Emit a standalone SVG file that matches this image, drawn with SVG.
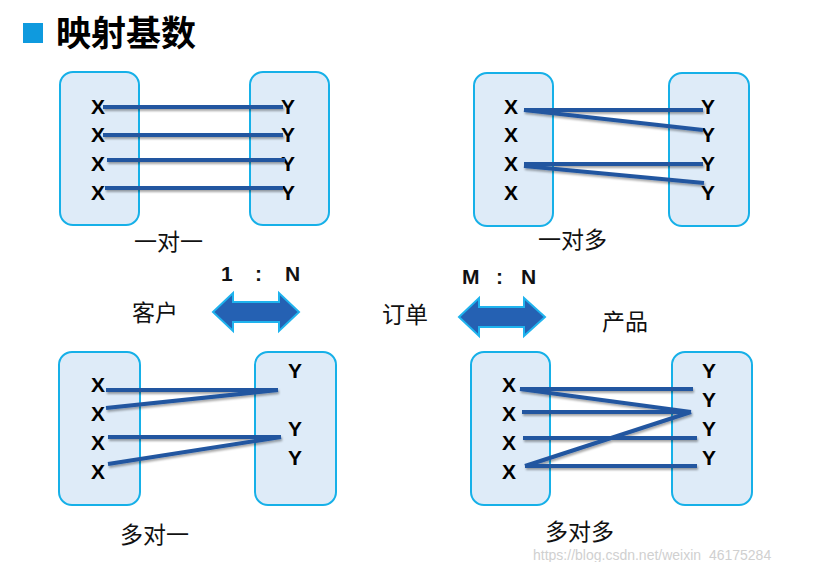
<svg xmlns="http://www.w3.org/2000/svg" width="813" height="562" viewBox="0 0 813 562">
<defs>
<filter id="sh" x="-10%" y="-50%" width="120%" height="200%">
<feDropShadow dx="1" dy="2" stdDeviation="1.2" flood-color="#000" flood-opacity="0.35"/>
</filter>
</defs>
<style>
.box{fill:#deebf8;stroke:#16b0e8;stroke-width:2}
.lbl{font-family:"Liberation Sans",Arial,sans-serif;font-weight:bold;font-size:21px;fill:#000}
.cn{font-family:"Noto Sans CJK SC","Noto Sans",sans-serif;font-size:23px;fill:#111}
.ln{stroke:#2457a0;stroke-width:4;stroke-linecap:butt;fill:none}
.arr{fill:#2561b3;stroke:#1fb3ee;stroke-width:2;stroke-linejoin:miter}
.ratio{font-family:"Liberation Sans",Arial,sans-serif;font-weight:bold;font-size:21px;fill:#111}
</style>
<rect x="23" y="23" width="20" height="20" fill="#0f9ade"/>
<text x="56" y="46" font-family="Noto Sans CJK SC,sans-serif" font-weight="bold" font-size="35" fill="#000">映射基数</text>

<g id="one-to-one">
<rect class="box" x="60" y="72" width="79" height="153" rx="13"/>
<rect class="box" x="250" y="72" width="79" height="153" rx="13"/>
<text class="lbl" x="91" y="114">X</text><text class="lbl" x="91" y="142">X</text><text class="lbl" x="91" y="171">X</text><text class="lbl" x="91" y="200">X</text>
<text class="lbl" x="281" y="114">Y</text><text class="lbl" x="281" y="142">Y</text><text class="lbl" x="281" y="171">Y</text><text class="lbl" x="281" y="200">Y</text>
<text class="cn" x="134" y="250">一对一</text>
</g>

<g id="one-to-many">
<rect class="box" x="474" y="73" width="79" height="153" rx="13"/>
<rect class="box" x="669" y="73" width="80" height="153" rx="13"/>
<text class="lbl" x="504" y="114">X</text><text class="lbl" x="504" y="142">X</text><text class="lbl" x="504" y="171">X</text><text class="lbl" x="504" y="200">X</text>
<text class="lbl" x="701" y="114">Y</text><text class="lbl" x="701" y="142">Y</text><text class="lbl" x="701" y="171">Y</text><text class="lbl" x="701" y="200">Y</text>
<text class="cn" x="538" y="248">一对多</text>
</g>

<g id="many-to-one">
<rect class="box" x="59" y="352" width="81" height="153" rx="13"/>
<rect class="box" x="255" y="352" width="81" height="153" rx="13"/>
<text class="lbl" x="91" y="392">X</text><text class="lbl" x="91" y="421">X</text><text class="lbl" x="91" y="450">X</text><text class="lbl" x="91" y="479">X</text>
<text class="lbl" x="288" y="378">Y</text><text class="lbl" x="288" y="436">Y</text><text class="lbl" x="288" y="465">Y</text>
<text class="cn" x="120" y="543">多对一</text>
</g>

<g id="many-to-many">
<rect class="box" x="471" y="352" width="79" height="153" rx="13"/>
<rect class="box" x="672" y="352" width="80" height="153" rx="13"/>
<text class="lbl" x="502" y="392">X</text><text class="lbl" x="502" y="421">X</text><text class="lbl" x="502" y="450">X</text><text class="lbl" x="502" y="479">X</text>
<text class="lbl" x="702" y="378">Y</text><text class="lbl" x="702" y="407">Y</text><text class="lbl" x="702" y="436">Y</text><text class="lbl" x="702" y="465">Y</text>
<text class="cn" x="545" y="540">多对多</text>
</g>

<g id="customer"><text class="cn" x="132" y="321">客户</text></g>
<g id="order"><text class="cn" x="382" y="323">订单</text></g>
<g id="product"><text class="cn" x="602" y="330">产品</text></g>

<g id="rel-1n">
<text class="ratio" x="221" y="281">1</text><text class="ratio" x="255" y="281">:</text><text class="ratio" x="285" y="281">N</text>
<path class="arr" d="M213,312 L233,293 L233,302 L279,302 L279,293 L299,312 L279,331 L279,322 L233,322 L233,331 Z"/>
</g>
<g id="rel-mn">
<text class="ratio" x="462" y="284">M</text><text class="ratio" x="496" y="284">:</text><text class="ratio" x="521" y="284">N</text>
<path class="arr" d="M459,317 L479,298 L479,307 L524,307 L524,298 L545,317 L524,336 L524,327 L479,327 L479,336 Z"/>
</g>

<g id="connectors" filter="url(#sh)">
<line class="ln" x1="103" y1="107" x2="283" y2="107"/>
<line class="ln" x1="103" y1="135" x2="283" y2="135"/>
<line class="ln" x1="107" y1="160" x2="285" y2="160"/>
<line class="ln" x1="105" y1="188" x2="283" y2="188"/>

<line class="ln" x1="524" y1="110" x2="703" y2="110"/>
<line class="ln" x1="524" y1="110" x2="703" y2="130"/>
<line class="ln" x1="524" y1="164" x2="703" y2="164"/>
<line class="ln" x1="524" y1="166" x2="704" y2="183"/>

<line class="ln" x1="106" y1="390" x2="278" y2="390"/>
<line class="ln" x1="106" y1="408" x2="278" y2="390"/>
<line class="ln" x1="108" y1="437" x2="281" y2="437"/>
<line class="ln" x1="108" y1="464" x2="281" y2="437"/>

<line class="ln" x1="520" y1="389" x2="693" y2="389"/>
<line class="ln" x1="520" y1="389" x2="691" y2="412"/>
<line class="ln" x1="522" y1="412" x2="691" y2="412"/>
<line class="ln" x1="523" y1="438" x2="697" y2="438"/>
<line class="ln" x1="525" y1="466" x2="691" y2="412"/>
<line class="ln" x1="525" y1="466" x2="697" y2="466"/>
</g>

<text x="533" y="560" font-family="Liberation Sans,Arial,sans-serif" font-size="14" fill="#d0d0d0">https://blog.csdn.net/weixin_46175284</text>
</svg>
